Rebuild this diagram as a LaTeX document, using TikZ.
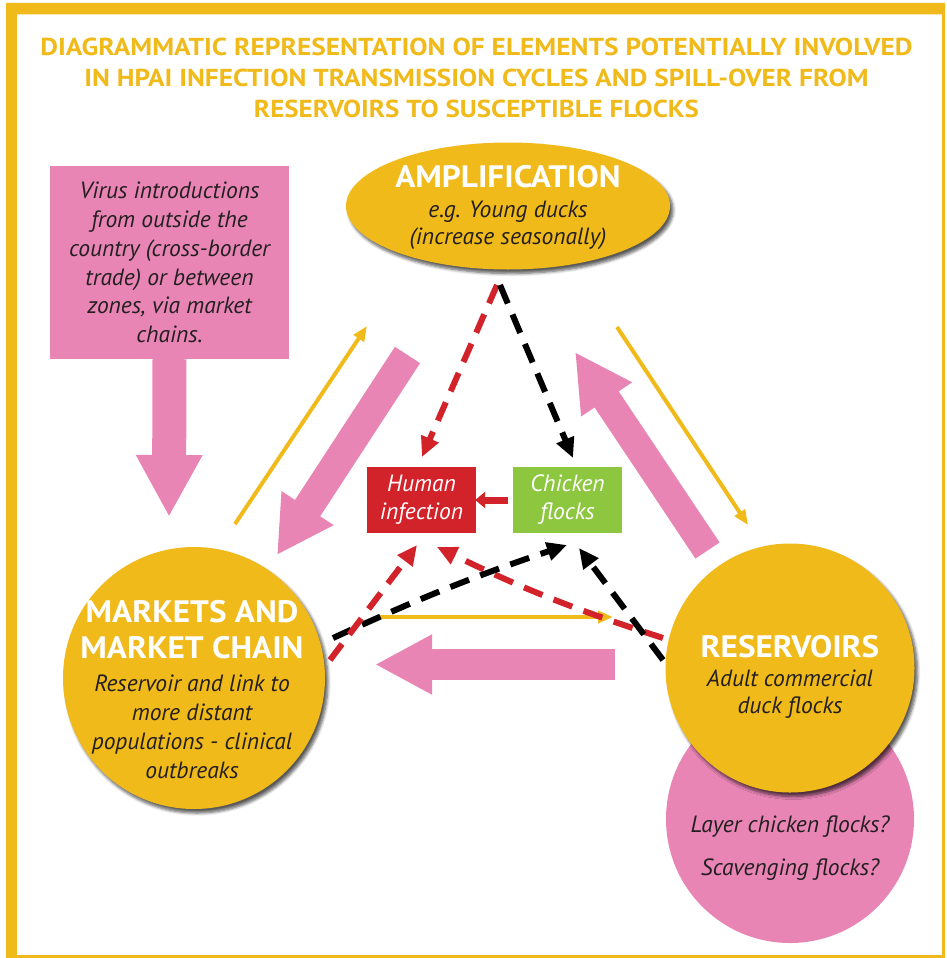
\documentclass[tikz,border=0pt]{standalone}
\usepackage{fontspec}
\setmainfont{PT Sans}
\newfontfamily\headfont[FakeStretch=1.07]{PT Sans}
\usetikzlibrary{arrows.meta,shapes.geometric,shadows.blur,calc}
\definecolor{hyellow}{HTML}{F0BA1B}
\definecolor{hpink}{HTML}{E885B5}
\definecolor{hred}{HTML}{D2232A}
\definecolor{hgreen}{HTML}{8DC63F}
\definecolor{htext}{HTML}{231F20}
\newcommand{\tline}[2]{\resizebox{#1}{17.5pt}{\bfseries #2}}
\tikzset{
  shad/.style={blur shadow={shadow xshift=3pt, shadow yshift=-4pt, shadow blur steps=6, shadow opacity=65, shadow blur radius=3pt}},
  bigcirc/.style={circle, fill=hyellow, inner sep=0pt, shad},
  headtxt/.style={text=white, font=\headfont\bfseries\fontsize{31}{36}\selectfont, align=center, inner sep=0pt},
  bodytxt/.style={text=htext, font=\itshape\fontsize{23.5}{28.8}\selectfont, align=center, inner sep=0pt},
  titlenode/.style={text=hyellow, inner sep=0pt},
  fatpink/.style={draw=hpink, line width=#1},
  dashy/.style={line width=6pt, dash pattern=on 20pt off 12pt, -{Triangle[length=20pt,width=18pt]}},
  thinyel/.style={draw=hyellow, line width=4pt, -{Triangle[length=15pt,width=12pt]}},
  smallbox/.style={text=white, font=\itshape\fontsize{23.5}{28}\selectfont, align=center, minimum width=109pt, minimum height=66pt, inner sep=0pt}
}
\begin{document}
\begin{tikzpicture}[x=1pt,y=-1pt]
\useasboundingbox (0,0) rectangle (947,958);
% frame
\fill[hyellow, even odd rule] (6,3) rectangle (945,958) (17,14.5) rectangle (942,955);
% title
\node[titlenode] (t1) at (476.5,47) {\tline{872pt}{DIAGRAMMATIC REPRESENTATION OF ELEMENTS POTENTIALLY INVOLVED}};
\node[titlenode] (t2) at (476.5,78) {\tline{784pt}{IN HPAI INFECTION TRANSMISSION CYCLES AND SPILL-OVER FROM}};
\node[titlenode] (t3) at (476.5,109) {\tline{445pt}{RESERVOIRS TO SUSCEPTIBLE FLOCKS}};

% main shapes
\node[ellipse, fill=hyellow, minimum width=324pt, minimum height=127pt, inner sep=0pt, shad] (amp) at (508,206) {};
\node[headtxt] (ampH) at (508,177) {AMPLIFICATION};
\node[bodytxt, font=\itshape\fontsize{23.5}{27}\selectfont] (ampB) at (508,225) {e.g. Young ducks\\(increase seasonally)};

\node[rectangle, fill=hpink, minimum width=239pt, minimum height=193pt, inner sep=0pt, bodytxt] (virus) at (169.5,262.5) {Virus introductions\\from outside the\\country (cross-border\\trade) or between\\zones, via market\\chains.};

\node[circle, fill=hpink, minimum size=248pt, inner sep=0pt] (layer) at (790,819) {};
\node[bodytxt, font=\itshape\fontsize{23.5}{29}\selectfont] (layerT) at (790,848) {Layer chicken flocks?\\[14pt]Scavenging flocks?};

\node[bigcirc, minimum size=249pt] (res) at (790,668) {};
\node[headtxt] (resH) at (790,647) {RESERVOIRS};
\node[bodytxt, font=\itshape\fontsize{23.5}{27}\selectfont] (resB) at (790,694) {Adult commercial\\duck flocks};

\node[bigcirc, minimum size=262pt] (mkt) at (194,678) {};
\node[headtxt] (mktH) at (192,630) {MARKETS AND\\MARKET CHAIN};
\node[bodytxt] (mktB) at (192,727) {Reservoir and link to\\more distant\\populations - clinical\\outbreaks};

\node[smallbox, fill=hred] (human) at (421.5,500) {Human\\infection};
\node[smallbox, fill=hgreen] (chick) at (567.5,500) {Chicken\\flocks};

% coordinates for free ends
\coordinate (vEnd) at (169,517);
\coordinate (lpS) at (407.5,355); \coordinate (lpE) at (277,555);
\coordinate (rpS) at (707.5,550.5); \coordinate (rpE) at (575,352);
\coordinate (bpS) at (615,664.5); \coordinate (bpE) at (375,664.5);
\coordinate (lyS) at (235,524); \coordinate (lyE) at (367,326);
\coordinate (ryS) at (617,327); \coordinate (ryE) at (748,525);
\coordinate (hyS) at (377,617); \coordinate (hyE) at (613,617);
\coordinate (ampL) at (497,285); \coordinate (ampR) at (500,285);
\coordinate (humT) at (422,457); \coordinate (chkT) at (573,458);
\coordinate (mktR1) at (330,660); \coordinate (mktR2) at (333,638);
\coordinate (resL1) at (663,638); \coordinate (resL2) at (663,660);
\coordinate (humB1) at (417,545); \coordinate (humB2) at (437,547);
\coordinate (chkB1) at (567,545); \coordinate (chkB2) at (579,548);

% fat pink arrows
\draw[fatpink=34pt, -{Triangle[length=62pt,width=62pt]}] (virus.south) -- (vEnd);
\draw[fatpink=30pt, -{Triangle[length=56pt,width=58pt]}] (lpS) -- (lpE);
\draw[fatpink=29pt, -{Triangle[length=57pt,width=57pt]}] (rpS) -- (rpE);
\draw[fatpink=31pt, -{Triangle[length=57pt,width=56pt]}] (bpS) -- (bpE);

% thin yellow arrows
\draw[thinyel] (lyS) -- (lyE);
\draw[thinyel] (ryS) -- (ryE);
\draw[thinyel] (hyS) -- (hyE);

% dashed arrows
\draw[dashy, hred] (ampL) -- (humT);
\draw[dashy, black] (ampR) -- (chkT);
\draw[dashy, hred] (resL1) to[bend left=4] (humB2);
\draw[dashy, black] (mktR2) to[bend left=3] (chkB1);
\draw[dashy, hred] (mktR1) -- (humB1);
\draw[dashy, black] (resL2) -- (chkB2);

% small red arrow
\draw[hred, line width=7pt, -{Triangle[length=10pt,width=16pt]}] ([xshift=-5pt]chick.west) -- ([xshift=-1pt]human.east);
\end{tikzpicture}
\end{document}
